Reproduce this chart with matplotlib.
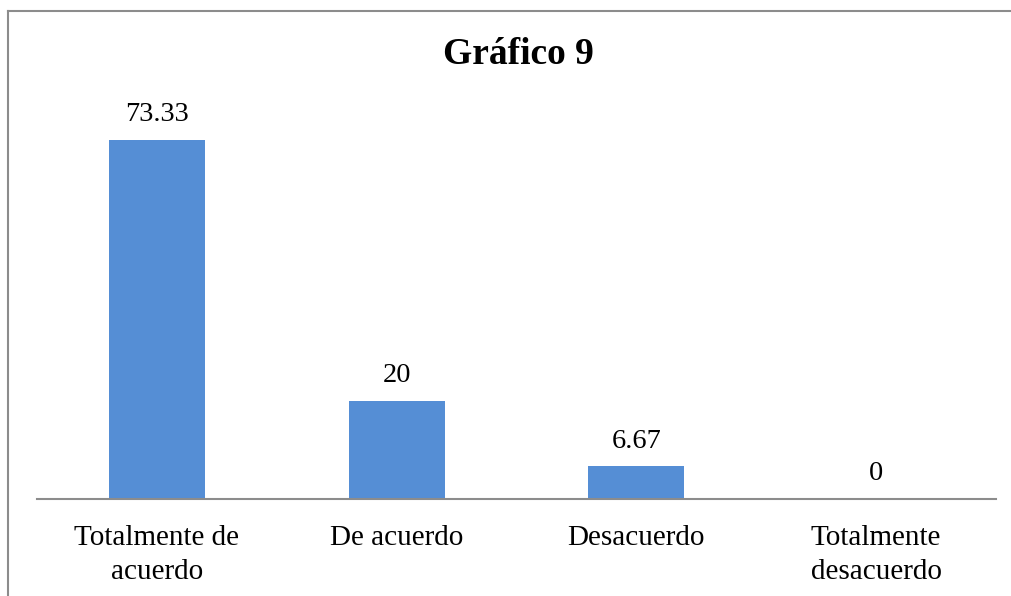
import matplotlib.pyplot as plt
from matplotlib.lines import Line2D

# datos del gráfico
categorias = ["Totalmente de\nacuerdo", "De acuerdo", "Desacuerdo", "Totalmente\ndesacuerdo"]
valores = [73.33, 20, 6.67, 0]
etiquetas = ["73.33", "20", "6.67", "0"]

plt.rcParams['font.family'] = ['Liberation Serif', 'DejaVu Serif']

W, H = 1011, 596
fig = plt.figure(figsize=(W / 100, H / 100), dpi=100)

# marco gris (solo arriba e izquierda, la imagen está recortada)
fig.add_artist(Line2D([8 / W, 8 / W], [0, 1 - 11 / H], color="#8c8c8c", lw=1.5,
                      transform=fig.transFigure))
fig.add_artist(Line2D([8 / W, 1], [1 - 11 / H, 1 - 11 / H], color="#8c8c8c", lw=1.5,
                      transform=fig.transFigure))

ax = fig.add_axes([37 / W, (H - 499) / H, (996 - 37) / W, (499 - 107) / H])
x = range(len(categorias))
ax.bar(x, valores, width=0.4, color="#558ED5")
ax.set_xlim(-0.5, len(categorias) - 0.5)
ax.set_ylim(0, 80)

for xi, v, t in zip(x, valores, etiquetas):
    ax.annotate(t, (xi, v), xytext=(0, 9), textcoords="offset points",
                ha="center", va="bottom", fontsize=20.5)

ax.set_xticks(list(x))
ax.set_xticklabels(categorias, fontsize=21, linespacing=1.37)
ax.tick_params(axis="x", length=0, pad=19)
ax.set_yticks([])
for s in ["top", "right", "left"]:
    ax.spines[s].set_visible(False)
ax.spines["bottom"].set_color("#8c8c8c")
ax.spines["bottom"].set_linewidth(1.5)

fig.text(518 / W, 1 - 54 / H, "Gráfico 9", ha="center", va="center",
         fontsize=27, fontweight="bold")

fig.savefig("out.png", dpi=100)
